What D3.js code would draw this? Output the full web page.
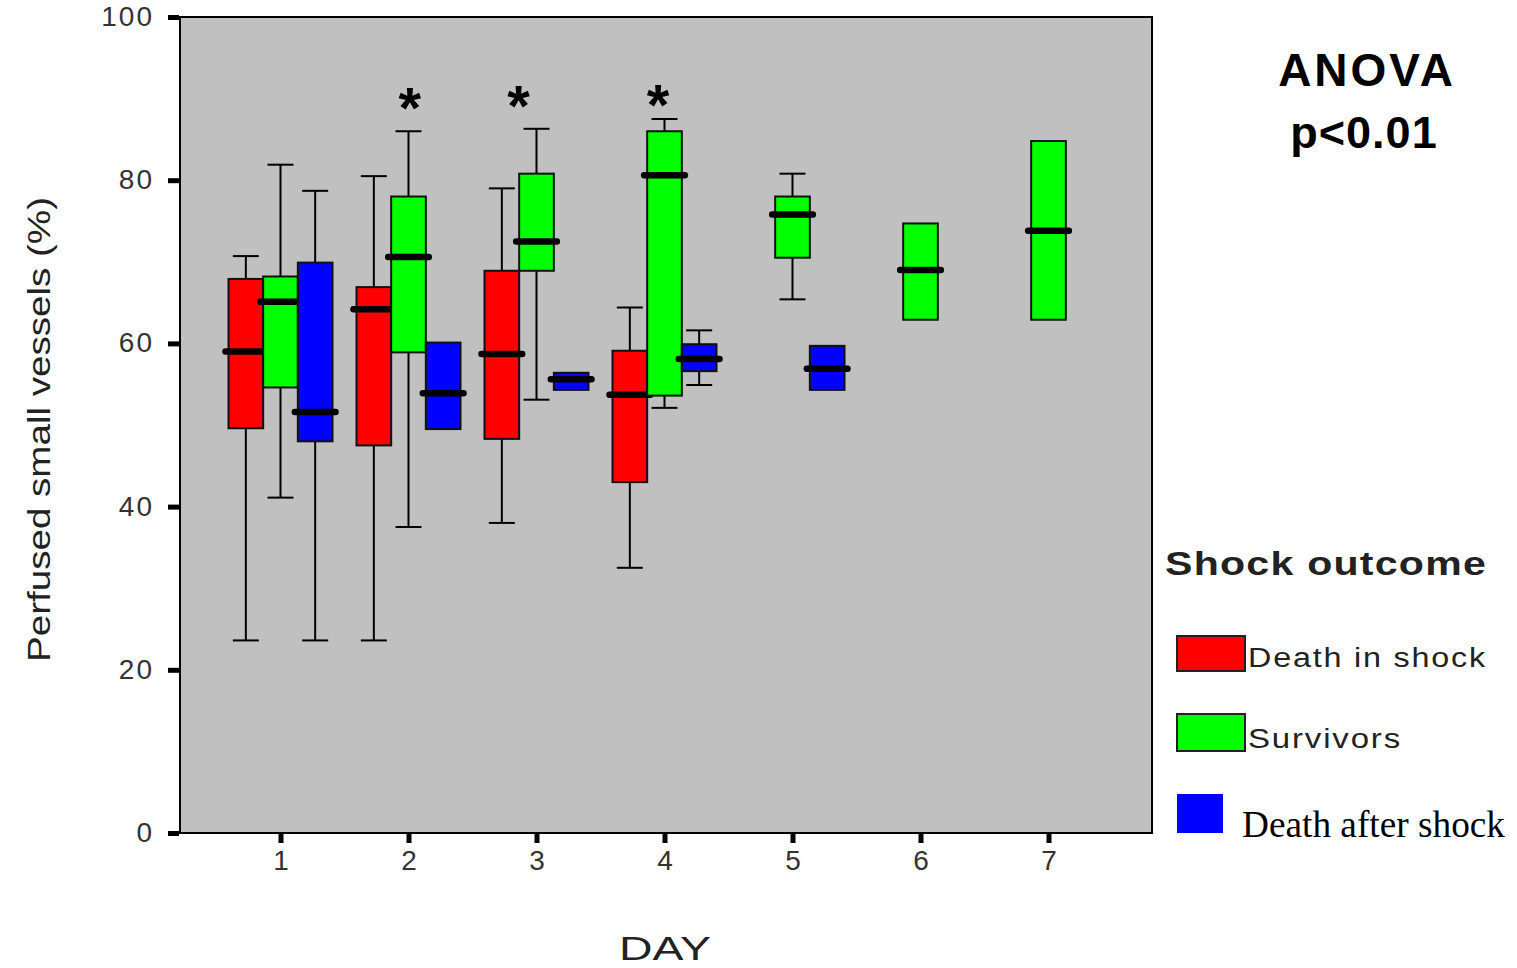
<!DOCTYPE html>
<html>
<head>
<meta charset="utf-8">
<script src="https://cdn.jsdelivr.net/npm/d3@7/dist/d3.min.js"></script>
<style>
  html, body { margin: 0; padding: 0; background: #ffffff; }
  svg { display: block; }
</style>
</head>
<body>
<svg id="chart" width="1517" height="968"></svg>
<script>
// ---------------- DATA ----------------
const days = [1, 2, 3, 4, 5, 6, 7];
const groups = ["Death in shock", "Survivors", "Death after shock"];
const yTicks = [0, 20, 40, 60, 80, 100];

// [day, whiskerLow, q1, median, q3, whiskerHigh]  (null = no whisker)
const deathInShock = [
  [1, 23.6, 49.6, 59.0, 67.9, 70.7],
  [2, 23.6, 47.5, 64.2, 66.9, 80.5],
  [3, 38.0, 48.3, 58.7, 68.9, 79.0],
  [4, 32.5, 43.0, 53.7, 59.1, 64.4]
];
const survivors = [
  [1, 41.1, 54.6, 65.1, 68.2, 81.9],
  [2, 37.5, 58.9, 70.6, 78.0, 86.0],
  [3, 53.1, 68.9, 72.5, 80.8, 86.3],
  [4, 52.1, 53.6, 80.6, 86.0, 87.5],
  [5, 65.4, 70.5, 75.8, 78.0, 80.8],
  [6, null, 62.9, 69.0, 74.7, null],
  [7, null, 62.9, 73.8, 84.8, null]
];
const deathAfterShock = [
  [1, 23.6, 48.0, 51.6, 69.9, 78.7],
  [2, null, 49.5, 53.9, 60.1, null],
  [3, null, 54.3, 55.6, 56.4, null],
  [4, 54.9, 56.6, 58.1, 59.9, 61.6],
  [5, null, 54.3, 56.9, 59.7, null]
];
const seriesColors = ["#ff0000", "#00ff00", "#0000ff"];

// significance markers: [x position in day units, y value]
const stars = [[2.01, 90.4], [2.86, 90.6], [3.95, 90.8]];

const yTitle = "Perfused small vessels (%)";
const xTitle = "DAY";
const annot = ["ANOVA", "p<0.01"];
const legendTitle = "Shock outcome";

// ---------------- LAYOUT ----------------
const svg = d3.select("#chart");
const plot = { left: 180, right: 1152, top: 17, bottom: 833 };

const y = d3.scaleLinear().domain([0, 100]).range([plot.bottom, plot.top]);
const x = d3.scaleLinear().domain([1, 7]).range([280.5, 1048.5]);
const inner = d3.scaleBand().domain(groups).range([-52, 52]).padding(0);

// background
svg.append("rect")
  .attr("x", plot.left).attr("y", plot.top)
  .attr("width", plot.right - plot.left).attr("height", plot.bottom - plot.top)
  .attr("fill", "#c0c0c0").attr("stroke", "#000").attr("stroke-width", 2);

// axes
const tickFont = "'Liberation Sans', Arial, sans-serif";
const yAxis = d3.axisLeft(y).tickValues(yTicks).tickSize(11).tickPadding(14).tickFormat(d3.format("d"));
const gy = svg.append("g").attr("transform", `translate(${plot.left - 1},0)`).call(yAxis);
gy.select(".domain").remove();
gy.selectAll(".tick line").attr("stroke", "#000").attr("stroke-width", 5);
gy.selectAll(".tick text")
  .attr("font-family", tickFont).attr("font-size", 28).attr("fill", "#333")
  .attr("letter-spacing", 2).attr("dy", "0.3em");

const xAxis = d3.axisBottom(x).tickValues(days).tickSize(10).tickPadding(7).tickFormat(d3.format("d"));
const gx = svg.append("g").attr("transform", `translate(0,${plot.bottom})`).call(xAxis);
gx.select(".domain").remove();
gx.selectAll(".tick line").attr("stroke", "#000").attr("stroke-width", 5);
gx.selectAll(".tick text")
  .attr("font-family", tickFont).attr("font-size", 28).attr("fill", "#333");

// boxes
const allSeries = [deathInShock, survivors, deathAfterShock];
const bw = inner.bandwidth();
const capW = 26;
allSeries.forEach((series, si) => {
  const g = svg.append("g");
  const cx = d => x(d[0]) + inner(groups[si]) + bw / 2;
  series.forEach(d => {
    const c = cx(d);
    const [day, lo, q1, med, q3, hi] = d;
    if (lo !== null) {
      g.append("line").attr("x1", c).attr("x2", c).attr("y1", y(lo)).attr("y2", y(q1))
        .attr("stroke", "#000").attr("stroke-width", 2);
      g.append("line").attr("x1", c - capW / 2).attr("x2", c + capW / 2).attr("y1", y(lo)).attr("y2", y(lo))
        .attr("stroke", "#000").attr("stroke-width", 2);
    }
    if (hi !== null) {
      g.append("line").attr("x1", c).attr("x2", c).attr("y1", y(hi)).attr("y2", y(q3))
        .attr("stroke", "#000").attr("stroke-width", 2);
      g.append("line").attr("x1", c - capW / 2).attr("x2", c + capW / 2).attr("y1", y(hi)).attr("y2", y(hi))
        .attr("stroke", "#000").attr("stroke-width", 2);
    }
    g.append("rect")
      .attr("x", c - bw / 2).attr("y", y(q3))
      .attr("width", bw).attr("height", y(q1) - y(q3))
      .attr("fill", seriesColors[si]).attr("stroke", "#111").attr("stroke-width", 2);
  });
  series.forEach(d => {
    const c = cx(d);
    g.append("line")
      .attr("x1", c - bw / 2 - 3).attr("x2", c + bw / 2 + 3)
      .attr("y1", y(d[3])).attr("y2", y(d[3]))
      .attr("stroke", "#000").attr("stroke-width", 6.5).attr("stroke-linecap", "round");
  });
});

// stars
svg.selectAll("text.star").data(stars).enter().append("text")
  .attr("class", "star")
  .attr("x", d => x(d[0])).attr("y", d => y(d[1]))
  .attr("dy", "0.56em")
  .attr("text-anchor", "middle")
  .attr("font-family", "'Liberation Sans', Arial, sans-serif")
  .attr("font-weight", "bold").attr("font-size", 58).attr("fill", "#000")
  .text("*");

// axis titles
svg.append("text")
  .attr("transform", `translate(50,${(197 + 662) / 2}) rotate(-90)`)
  .attr("text-anchor", "middle")
  .attr("font-family", tickFont).attr("font-size", 31).attr("fill", "#222")
  .attr("textLength", 465).attr("lengthAdjust", "spacingAndGlyphs")
  .text(yTitle);

svg.append("text")
  .attr("x", 665).attr("y", 960)
  .attr("text-anchor", "middle")
  .attr("font-family", tickFont).attr("font-size", 34).attr("fill", "#222")
  .attr("textLength", 92).attr("lengthAdjust", "spacingAndGlyphs")
  .text(xTitle);

// annotation
svg.append("text").attr("x", 1367).attr("y", 86).attr("text-anchor", "middle")
  .attr("font-family", tickFont).attr("font-weight", "bold").attr("font-size", 46)
  .attr("letter-spacing", 3).text(annot[0]);
svg.append("text").attr("x", 1364).attr("y", 148).attr("text-anchor", "middle")
  .attr("font-family", tickFont).attr("font-weight", "bold").attr("font-size", 45)
  .attr("letter-spacing", 1).text(annot[1]);

// legend
svg.append("text").attr("x", 1165).attr("y", 575)
  .attr("font-family", tickFont).attr("font-weight", "bold").attr("font-size", 33)
  .attr("fill", "#222").attr("letter-spacing", 1)
  .attr("textLength", 322).attr("lengthAdjust", "spacingAndGlyphs")
  .text(legendTitle);

const legendRows = [
  { y0: 636, h: 35, w: 68, textY: 667, tx: 1248, len: 239 },
  { y0: 714, h: 37, w: 68, textY: 748, tx: 1248, len: 154 },
  { y0: 794, h: 39, w: 46, textY: 837, tx: 1242, len: 263 }
];
groups.forEach((name, i) => {
  const r = legendRows[i];
  svg.append("rect").attr("x", 1177).attr("y", r.y0).attr("width", r.w).attr("height", r.h)
    .attr("fill", seriesColors[i])
    .attr("stroke", i < 2 ? "#222" : "none").attr("stroke-width", 2);
  const t = svg.append("text").attr("x", r.tx).attr("y", r.textY).text(name);
  if (i < 2) {
    t.attr("font-family", tickFont).attr("font-size", 27).attr("fill", "#222")
     .attr("letter-spacing", 1.5)
     .attr("textLength", r.len).attr("lengthAdjust", "spacingAndGlyphs");
  } else {
    t.attr("font-family", "'Liberation Serif', 'Times New Roman', serif")
     .attr("font-size", 37).attr("fill", "#000")
     .attr("textLength", r.len).attr("lengthAdjust", "spacingAndGlyphs");
  }
});
</script>
</body>
</html>
